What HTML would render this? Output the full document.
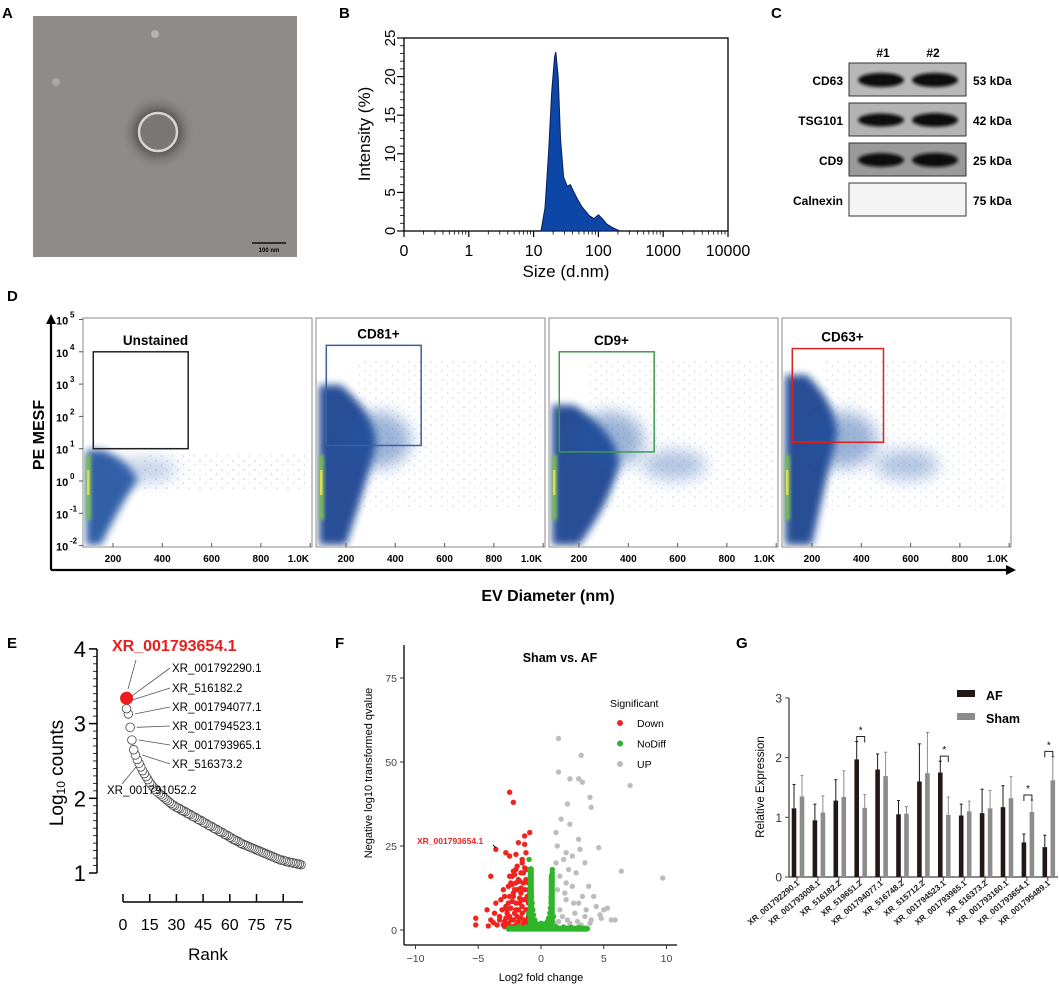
<!DOCTYPE html>
<html><head><meta charset="utf-8"><style>
body{margin:0;background:#fff}
svg{display:block;font-family:"Liberation Sans",Arial,sans-serif}
</style></head><body>
<svg id="fig" width="1059" height="987" viewBox="0 0 1059 987" xmlns="http://www.w3.org/2000/svg">
<defs>
<filter id="blur4" x="-50%" y="-50%" width="200%" height="200%"><feGaussianBlur stdDeviation="4"/></filter>
<filter id="blur8" x="-50%" y="-50%" width="200%" height="200%"><feGaussianBlur stdDeviation="8"/></filter>
<filter id="blur2" x="-50%" y="-50%" width="200%" height="200%"><feGaussianBlur stdDeviation="1.5"/></filter>
<pattern id="dots" width="11" height="9" patternUnits="userSpaceOnUse"><circle cx="2" cy="2" r="0.8" fill="#1f4f9a"/><circle cx="7.5" cy="6" r="0.7" fill="#2a5fae"/></pattern>
<radialGradient id="halo" cx="50%" cy="50%" r="50%"><stop offset="45%" stop-color="#3e3a38" stop-opacity="0.85"/><stop offset="100%" stop-color="#8e8a87" stop-opacity="0"/></radialGradient>
</defs>

<g>
<text x="2" y="18" font-size="15" font-weight="bold">A</text>
<rect x="33" y="16" width="264" height="241" fill="#8f8b88"/>
<circle cx="158" cy="132" r="38" fill="url(#halo)"/>
<circle cx="158" cy="132" r="19" fill="#7a7674" stroke="#d8d4d0" stroke-width="2.5"/>
<circle cx="155" cy="34" r="4" fill="#b5b1ad"/>
<circle cx="56" cy="82" r="4" fill="#aaa6a2"/>
<line x1="252" y1="243" x2="286" y2="243" stroke="#111" stroke-width="1.5"/>
<text x="269" y="252" font-size="6" text-anchor="middle" font-weight="bold">100 nm</text>
</g>

<g id="pB">
<text x="339" y="18" font-size="15" font-weight="bold">B</text>
<rect x="404" y="38" width="324" height="193" fill="none" stroke="#000" stroke-width="1.3"/>
<text transform="translate(370,134) rotate(-90)" font-size="17" text-anchor="middle">Intensity (%)</text>
<text x="566" y="277" font-size="17" text-anchor="middle">Size (d.nm)</text>
</g>

<g id="pC">
<text x="771" y="18" font-size="15" font-weight="bold">C</text>
<text x="883" y="57" font-size="12" font-weight="bold" text-anchor="middle">#1</text>
<text x="933" y="57" font-size="12" font-weight="bold" text-anchor="middle">#2</text>
</g>

<g id="pD">
<text x="7" y="301" font-size="15" font-weight="bold">D</text>
<text transform="translate(44,435) rotate(-90)" font-size="16" font-weight="bold" text-anchor="middle">PE MESF</text>
<text x="548" y="601" font-size="16" font-weight="bold" text-anchor="middle">EV Diameter (nm)</text>
<line x1="51" y1="570" x2="1010" y2="570" stroke="#000" stroke-width="2.2"/>
<polygon points="1016,570 1006,565 1006,575" fill="#000"/>
<line x1="51" y1="570" x2="51" y2="322" stroke="#000" stroke-width="2.2"/>
<polygon points="51,314 46,324 56,324" fill="#000"/>
</g>

<g id="pE">
<text x="7" y="648" font-size="15" font-weight="bold">E</text>
<text transform="translate(63,773) rotate(-90)" font-size="19" text-anchor="middle">Log<tspan font-size="12" dy="2">10</tspan><tspan dy="-2"> counts</tspan></text>
<text x="208" y="960" font-size="17" text-anchor="middle">Rank</text>
</g>

<g id="pF">
<text x="335" y="648" font-size="15" font-weight="bold">F</text>
<text x="560" y="662" font-size="12.5" font-weight="bold" text-anchor="middle">Sham vs. AF</text>
<text transform="translate(372,773) rotate(-90)" font-size="11" text-anchor="middle">Negative log10 transformed qvalue</text>
<text x="541" y="981" font-size="11" text-anchor="middle">Log2 fold change</text>
<text x="610" y="707" font-size="10.5">Significant</text>
</g>

<g id="pG">
<text x="736" y="648" font-size="15" font-weight="bold">G</text>
<text transform="translate(764,787) rotate(-90)" font-size="11.5" text-anchor="middle">Relative Expression</text>
</g>
</svg>

<script>
// ---------- Panel B data ----------
const bSizes=[13,15,17,19,21,22,24,26,29,33,37,41,47,55,63,72,85,100,115,135,160,190,215];
const bIntensity=[0,3,10,18,22.5,23.2,20,12,7,5.8,6,5.2,4.2,3.2,2.6,2,1.6,2.1,1.6,0.9,0.5,0.2,0];
const bXTicks=["0","1","10","100","1000","10000"];
const bYTicks=[0,5,10,15,20,25];

// ---------- Panel C data ----------
const cProteins=["CD63","TSG101","CD9","Calnexin"];
const cWeights=["53 kDa","42 kDa","25 kDa","75 kDa"];
const cBandStrength=[[1,1],[0.85,0.95],[0.95,1],[0,0]];

// ---------- Panel D data ----------
const dTitles=["Unstained","CD81+","CD9+","CD63+"];
const dGateColors=["#222","#3b5fa0","#3e9a4a","#e02020"];
const dXTicks=[200,400,600,800,1000];
const dXTickLabels=["200","400","600","800","1.0K"];
const dYExp=[5,4,3,2,1,0,-1,-2];
const dGateX0=[120,120,120,120];
const dGateX1=[505,505,505,490];
const dGateY0=[1.0,1.1,0.9,1.2];
const dGateY1=[4.0,4.2,4.0,4.1];

// ---------- Panel E data ----------
const eLogCounts=[3.34,3.2,3.13,2.95,2.78,2.65,2.58,2.52,2.47,2.42,2.37,2.33,2.29,2.25,2.21,2.18,2.15,2.12,2.09,2.07,2.05,2.03,2.01,1.99,1.97,1.95,1.93,1.91,1.9,1.88,1.87,1.86,1.84,1.83,1.82,1.8,1.79,1.78,1.76,1.75,1.74,1.72,1.71,1.7,1.68,1.67,1.66,1.64,1.63,1.62,1.6,1.59,1.58,1.56,1.55,1.54,1.52,1.51,1.5,1.48,1.47,1.45,1.44,1.43,1.42,1.4,1.39,1.38,1.37,1.36,1.35,1.34,1.33,1.32,1.31,1.3,1.29,1.28,1.27,1.26,1.25,1.24,1.23,1.22,1.21,1.2,1.19,1.18,1.17,1.17,1.16,1.15,1.15,1.14,1.14,1.13,1.13,1.12,1.12,1.11];
const eLabels=["XR_001792290.1","XR_516182.2","XR_001794077.1","XR_001794523.1","XR_001793965.1","XR_516373.2"];
const eLabelRank=[2,2,3,4,5,7];
const eXTickVals=[0,15,30,45,60,75,90];
const eXTickLabels=["0","15","30","45","60","75","75"];
const eYTicks=[1,2,3,4];

// ---------- Panel F data ----------
const fDownX=[-2.5,-2.2,-0.9,-1.3,-1.8,-1.3,-3.6,-2.8,-2.5,-1.2,-1.5,-1.1,-2,-4,-2.3,-1.8,-2.6,-1.4,-3,-3.6,-4.3,-3.7,-5.2,-5.2,-4,-3.3,-2.8,-2.2,-1.6,-1.2,-2.7,-2,-1.5,-1,-2.4,-1.8,-3,-2.5,-1.3,-2.1,-1.7,-1.1,-3.2,-2.4,-1.4,-2.9,-2.9,-2.6,-2.3,-2,-1.7,-1.4,-1.1,-2.8,-2.5,-2.2,-1.9,-1.6,-1.3,-1,-2.7,-2.4,-2.1,-1.8,-1.5,-1.2,-1,-2.6,-2.3,-2,-1.7,-1.4,-1.1,-2.5,-2.2,-1.9,-1.6,-1.3,-1,-2.3,-2,-1.7,-1.2,-2.5,-2.1,-1.6,-1.3,-2.2,-3.3,-3.5,-3.8,-4.2,-3.1,-2.9,-1.5,-1,-1.9,-2];
const fDownY=[41,38,29,28,26,25.5,24,23,22,23,20,18,18,16,16,15,13,14,12,8,6,5,3.5,1.5,3,4,7,10,11,9,5,6,5,4,3,2.5,1.5,1,1.2,12,8,6,9,14,17,2.5,1,2,1,1.5,1,2,1.5,3.5,4,3,4,3.5,3,2.5,6,6.5,5,6,7,6,8,8,8.5,8,9.5,9,10,10,11,12,12.5,12,12,13.5,14,14.5,15,16,16.5,17,18.5,17.5,3,1.5,2.2,1.2,6,10,21,14,19,22.5];
const fNoDiffX=[-0.95,-0.9,-0.85,-0.8,-0.8,-0.75,-0.7,-0.65,-0.6,-0.5,-0.4,-0.9,-0.85,-0.75,0.9,0.88,0.85,0.85,0.8,0.8,0.75,0.7,0.6,0.5,0.35,0.9,0.87,0.82,-2.6,-2.3,-2,-1.7,-1.4,-1.1,-0.8,-0.5,-0.2,0.1,0.4,0.7,1,1.3,1.6,1.9,2.2,2.5,2.8,3.1,3.4,3.7,-1.8,-1.2,-0.6,0,0.6,1.2,1.8,2.4,3,-0.3,0.2,-1,1];
const fNoDiffY=[21,18,16,14,12,10,8,6,4.5,3,2,11,9,7,18,16,14,12,10,8,6.5,5,3.5,2.5,1.5,17,11,9,0.3,0.4,0.3,0.5,0.3,0.6,0.4,0.8,1,1.2,0.9,0.6,0.4,0.5,0.3,0.4,0.3,0.5,0.3,0.4,0.3,0.4,1,0.9,1.5,2,1.4,1,0.9,0.8,0.8,1.6,1.8,5,4];
const fUpX=[1.4,3.2,1.4,2.3,3,3.3,7.1,3.9,2.1,4,1.6,2.3,1.2,3,1.3,3.1,4.6,2,2.5,1.8,3.5,6.4,9.7,2.2,2.8,1.5,3.8,2.5,4.2,3,5,5.3,4.7,5.6,5.9,3.5,2,1.3,2.7,4,1.7,2.3,3.2,1.5,2,3.3,1.1,4.4,1.2,1.9,2.6,3.6,1.4,2.1,2.9,3.9,4.8];
const fUpY=[57,52,47,45,45,44,43,39.5,37.5,36.5,33,31.5,29,27,25,24,24.5,23,22,21,20,17.5,15.5,18,17,16,13,13,10,8,6,6.5,4.5,3,3,4,9,12,5,3,4,2,1.5,6,14,10,2,7,20,11,8,6,2.5,3,2.5,2,3.5];
const fXTicks=[-10,-5,0,5,10];
const fYTicks=[0,25,50,75];
const fLegend=["Down","NoDiff","UP"];

// ---------- Panel G data ----------
const gCategories=["XR_001792290.1","XR_001793008.1","XR_516182.2","XR_519651.2","XR_001794077.1","XR_516748.2","XR_515712.2","XR_001794523.1","XR_001793965.1","XR_516373.2","XR_001793160.1","XR_001793654.1","XR_001795489.1"];
const gAF=[1.15,0.95,1.28,1.97,1.8,1.05,1.6,1.75,1.03,1.07,1.17,0.58,0.5];
const gAFErr=[0.4,0.27,0.35,0.3,0.26,0.23,0.63,0.19,0.19,0.4,0.36,0.14,0.2];
const gSham=[1.35,1.08,1.34,1.16,1.69,1.06,1.74,1.04,1.1,1.15,1.32,1.09,1.62];
const gShamErr=[0.35,0.28,0.44,0.22,0.4,0.12,0.68,0.3,0.17,0.3,0.36,0.2,0.4];
const gSignificant=[3,7,11,12];
const gYTicks=[0,1,2,3];

const NS="http://www.w3.org/2000/svg";
function mk(tag,attrs,parent,txt){const e=document.createElementNS(NS,tag);for(const k in attrs)e.setAttribute(k,attrs[k]);if(txt!==undefined)e.textContent=txt;parent.appendChild(e);return e;}

// ===== Panel B =====
(function(){
const g=document.getElementById('pB');
const bx=v=>404+(Math.log10(v)+1)*64.8;
const by=v=>231-v*7.72;
let d=`M${bx(bSizes[0])},${by(0)}`;
bSizes.forEach((s,i)=>{d+=` L${bx(s).toFixed(1)},${by(bIntensity[i]).toFixed(1)}`;});
d+=` L${bx(bSizes[bSizes.length-1])},${by(0)} Z`;
const p=mk('path',{d:d,fill:'#0c47a8',stroke:'#0a1f55','stroke-width':1},g);


bXTicks.forEach((t,i)=>{
  const x=404+i*64.8;
  mk('line',{x1:x,y1:231,x2:x,y2:237,stroke:'#000','stroke-width':1.2},g);
  const tx=mk('text',{x:x,y:256,'font-size':16,'text-anchor':'middle'},g,t);
  
  
  if(i<5){for(let m=2;m<10;m++){const xm=x+Math.log10(m)*64.8;mk('line',{x1:xm,y1:231,x2:xm,y2:234.5,stroke:'#000','stroke-width':0.8},g);}}
});
for(let v=0;v<=25;v++){mk('line',{x1:404,y1:by(v),x2:v%5===0?397:400,y2:by(v),stroke:'#000','stroke-width':v%5===0?1.2:0.8},g);}
bYTicks.forEach(v=>{
  const t=mk('text',{transform:`translate(395,${by(v)}) rotate(-90)`,'font-size':15,'text-anchor':'middle'},g,String(v));
  
  
});
})();

// ===== Panel C =====
(function(){
const g=document.getElementById('pC');
const bg=['#b8b8b8','#b3b3b3','#9a9a9a','#f4f4f4'];
cProteins.forEach((name,i)=>{
  const y=63+i*40;
  const r=mk('rect',{x:849,y:y,width:117,height:33,fill:bg[i],stroke:'#333','stroke-width':1},g);
  
  
  [881,935].forEach((cx,j)=>{
    const s=cBandStrength[i][j];
    if(s>0){const e=mk('ellipse',{cx:cx,cy:y+17,rx:23,ry:3.5+3.5*s,fill:'#0d0d0d',filter:'url(#blur2)'},g);
      
      }
  });
  const l=mk('text',{x:843,y:y+22,'font-size':12,'font-weight':'bold','text-anchor':'end'},g,name);
  
  
  const k=mk('text',{x:973,y:y+22,'font-size':12,'font-weight':'bold'},g,cWeights[i]);
  
  
});
})();

// ===== Panel D =====
(function(){
const g=document.getElementById('pD');
const defs=document.querySelector('defs');
const lefts=[83,316,549,782];
const dy=e=>481-e*32.3;
lefts.forEach((L,i)=>{
  const dx=v=>L+30+(v-200)*0.2465;
  const cp=mk('clipPath',{id:'clipD'+i},defs);
  mk('rect',{x:L+1,y:319,width:227,height:227},cp);
  const fr=mk('rect',{x:L,y:318,width:229,height:229,fill:'#fff',stroke:'#888','stroke-width':1},g);
  
  
  const cg=mk('g',{'clip-path':'url(#clipD'+i+')'},g);
  if(i===0){
    mk('rect',{x:L+60,y:455,width:165,height:35,fill:'url(#dots)',opacity:0.3},cg);
    mk('path',{d:`M${L+3},450 L${L+20},450 Q${L+45},460 ${L+55},480 Q${L+40},500 ${L+18},545 L${L+3},545 Z`,fill:'#1d4f9e',opacity:0.9,filter:'url(#blur4)'},cg);
    mk('ellipse',{cx:L+60,cy:470,rx:35,ry:12,fill:'#3a6ab5',opacity:0.3,filter:'url(#blur8)'},cg);
  } else {
    const top=[0,385,405,375][i], rightX=[0,60,70,55][i];
    mk('rect',{x:L+40,y:360,width:185,height:150,fill:'url(#dots)',opacity:0.25},cg);
    mk('path',{d:`M${L+3},${top} L${L+25},${top} Q${L+rightX},${top+30} ${L+rightX},${top+60} Q${L+rightX-10},${top+100} ${L+30},545 L${L+3},545 Z`,fill:'#123f8e',opacity:0.92,filter:'url(#blur4)'},cg);
    mk('ellipse',{cx:L+60,cy:440,rx:35,ry:28,fill:'#2456a6',opacity:0.45,filter:'url(#blur8)'},cg);
    if(i>=2) mk('ellipse',{cx:L+125,cy:465,rx:32,ry:15,fill:'#3d6cb8',opacity:0.4,filter:'url(#blur8)'},cg);
  }
  mk('rect',{x:L+3,y:455,width:5,height:65,fill:'#7ec24a',opacity:0.85,filter:'url(#blur2)'},cg);
  mk('rect',{x:L+4,y:470,width:2.5,height:25,fill:'#e8e04a',opacity:0.9},cg);
  const gx0=dx(dGateX0[i]),gx1=dx(dGateX1[i]),gy0=dy(dGateY1[i]),gy1=dy(dGateY0[i]);
  const gate=mk('rect',{x:gx0,y:gy0,width:gx1-gx0,height:gy1-gy0,fill:'none',stroke:dGateColors[i],'stroke-width':1.5},g);
  
  
  const t=mk('text',{x:i===0?gx1:gx0+(gx1-gx0)*0.55,y:gy0-7,'font-size':13.5,'font-weight':'bold','text-anchor':i===0?'end':'middle'},g,dTitles[i]);
  
  
  dXTicks.forEach((v,k)=>{
    const x=dx(v);
    mk('line',{x1:x,y1:547,x2:x,y2:543,stroke:'#555'},g);
    const tl=mk('text',{x:k===4?Math.min(x,L+226):x,y:562,'font-size':10,'font-weight':'bold','text-anchor':k===4?'end':'middle'},g,dXTickLabels[k]);
    
    
  });
});
dYExp.forEach(e=>{
  const y=dy(e);
  mk('line',{x1:83,y1:y,x2:79,y2:y,stroke:'#555'},g);
  const t=mk('text',{x:56,y:y+5,'font-size':11,'font-weight':'bold'},g,'10');
  
  
  mk('text',{x:70,y:y-2,'font-size':8,'font-weight':'bold'},g,String(e));
});
})();

// ===== Panel E =====
(function(){
const g=document.getElementById('pE');
const ex=r=>123+r*1.78;
const ey=v=>873-(v-1)*74.7;
mk('line',{x1:97,y1:ey(4),x2:97,y2:ey(1),stroke:'#000','stroke-width':1.5},g);
for(let k=0;k<=30;k++){const y=ey(1+k*0.1);mk('line',{x1:97,y1:y,x2:k%10===0?89:93,y2:y,stroke:'#000','stroke-width':k%10===0?1.5:0.8},g);}
eYTicks.forEach(v=>{const t=mk('text',{x:86,y:ey(v)+8,'font-size':22,'text-anchor':'end'},g,String(v));
  
  });
mk('line',{x1:123,y1:902,x2:303,y2:902,stroke:'#000','stroke-width':1.5},g);
eXTickVals.forEach((v,i)=>{
  const x=ex(v);mk('line',{x1:x,y1:902,x2:x,y2:894,stroke:'#000','stroke-width':1.5},g);
  const t=mk('text',{x:x,y:930,'font-size':16,'text-anchor':'middle'},g,eXTickLabels[i]);
  
  
});
for(let i=eLogCounts.length-1;i>=1;i--){
  const c=mk('circle',{cx:ex(i+1),cy:ey(eLogCounts[i]),r:4.3,fill:'#fff',stroke:'#444','stroke-width':0.8},g);
  
  
}
const red=mk('circle',{cx:ex(2),cy:ey(eLogCounts[0]),r:6.5,fill:'#ee1c1c'},g);


const rt=mk('text',{x:112,y:651,'font-size':16,'font-weight':'bold',fill:'#ee1c1c'},g,'XR_001793654.1');


mk('line',{x1:136,y1:660,x2:128,y2:689,stroke:'#555','stroke-width':0.8},g);
const ly=[672,692,711,730,749,768];
eLabels.forEach((s,i)=>{
  const idx=eLabelRank[i]-1;
  const px=ex(eLabelRank[i]+ (i<2?0:1)),py=ey(eLogCounts[Math.max(0,idx-1+ (i<2?0:1))]);
  mk('line',{x1:170,y1:ly[i]-4,x2:px+5,y2:i<2?ey(eLogCounts[0])-2+i*4:py,stroke:'#555','stroke-width':0.8},g);
  const t=mk('text',{x:172,y:ly[i],'font-size':11.5},g,s);
  
  
});
mk('line',{x1:122,y1:784,x2:136,y2:767,stroke:'#555','stroke-width':0.8},g);
const t=mk('text',{x:107,y:794,'font-size':11.5},g,'XR_001791052.2');


})();

// ===== Panel F =====
(function(){
const g=document.getElementById('pF');
const fx=v=>541+v*12.55;
const fy=v=>930-v*3.36;
mk('line',{x1:404,y1:645,x2:404,y2:945,stroke:'#000','stroke-width':1.3},g);
mk('line',{x1:404,y1:945,x2:677,y2:945,stroke:'#000','stroke-width':1.3},g);
fYTicks.forEach(v=>{mk('line',{x1:404,y1:fy(v),x2:400,y2:fy(v),stroke:'#333'},g);
  const t=mk('text',{x:397,y:fy(v)+4,'font-size':10.5,'text-anchor':'end',fill:'#444'},g,String(v));
  
  });
fXTicks.forEach(v=>{mk('line',{x1:fx(v),y1:945,x2:fx(v),y2:949,stroke:'#333'},g);
  const t=mk('text',{x:fx(v),y:962,'font-size':10.5,'text-anchor':'middle',fill:'#444'},g,String(v).replace('-','−'));
  
  });
function pts(X,Y,col,name){X.forEach((x,i)=>{const c=mk('circle',{cx:fx(x),cy:fy(Y[i]),r:2.7,fill:col},g);
  
  });}
pts(fUpX,fUpY,'#bdbdbd','up-point');
pts(fDownX,fDownY,'#f0231e','down-point');
pts(fNoDiffX,fNoDiffY,'#2fb52a','nodiff-point');
mk('rect',{x:fx(-2.7),y:fy(1)-1,width:fx(3.7)-fx(-2.7),height:6,fill:'#2fb52a'},g);
mk('rect',{x:fx(-1.05),y:fy(19),width:6,height:fy(0)-fy(19),fill:'#2fb52a',rx:3},g);
mk('rect',{x:fx(0.62),y:fy(17),width:6,height:fy(0)-fy(17),fill:'#2fb52a',rx:3},g);
const cols=['#f0231e','#2fb52a','#bdbdbd'];
fLegend.forEach((s,i)=>{const y=727+i*20.5;
  mk('circle',{cx:620,cy:y-4,r:3,fill:cols[i]},g);
  const t=mk('text',{x:637,y:y,'font-size':10.5},g,s);
  
  });
const lt=mk('text',{x:417,y:844,'font-size':8.5,'font-weight':'bold',fill:'#ee2222'},g,'XR_001793654.1');


mk('line',{x1:493,y1:845,x2:496,y2:848,stroke:'#000','stroke-width':1},g);
})();

// ===== Panel G =====
(function(){
const g=document.getElementById('pG');
const gy=v=>877-v*59.7;
const gx=i=>797+i*20.9;
mk('line',{x1:789,y1:gy(3),x2:789,y2:877,stroke:'#444','stroke-width':1.3},g);
mk('line',{x1:789,y1:877,x2:1058,y2:877,stroke:'#444','stroke-width':1.3},g);
gYTicks.forEach(v=>{mk('line',{x1:789,y1:gy(v),x2:785,y2:gy(v),stroke:'#444'},g);
  const t=mk('text',{x:782,y:gy(v)+4.5,'font-size':12,'text-anchor':'end',fill:'#333'},g,String(v));
  
  });
gCategories.forEach((c,i)=>{
  const x=gx(i);
  mk('line',{x1:x,y1:877,x2:x,y2:881,stroke:'#444'},g);
  [[gAF,gAFErr,-3,'#231815'],[gSham,gShamErr,5,'#8c8c8c']].forEach(([vals,errs,off,col],k)=>{
    const bxx=x+off-2.3;
    const b=mk('rect',{x:bxx,y:gy(vals[i]),width:4.6,height:gy(0)-gy(vals[i]),fill:col},g);
    
    
    mk('line',{x1:x+off,y1:gy(vals[i]),x2:x+off,y2:gy(vals[i]+errs[i]),stroke:col,'stroke-width':1},g);
    mk('line',{x1:x+off-1.5,y1:gy(vals[i]+errs[i]),x2:x+off+1.5,y2:gy(vals[i]+errs[i]),stroke:col,'stroke-width':1},g);
  });
  const t=mk('text',{transform:`translate(${x+3},884) rotate(-40)`,'font-size':8.3,'font-weight':'bold','text-anchor':'end',fill:'#222'},g,c);
  
  
});
gSignificant.forEach(i=>{
  const x=gx(i);const top=Math.max(gAF[i]+gAFErr[i],gSham[i]+gShamErr[i]);
  const y=gy(top)-5;
  mk('path',{d:`M${x-3},${y+6} V${y} H${x+5} V${y+6}`,fill:'none',stroke:'#222','stroke-width':1},g);
  const s=mk('text',{x:x+1,y:y-3,'font-size':10,'text-anchor':'middle'},g,'*');
  
  
});
[['AF','#231815',700],['Sham','#8c8c8c',723]].forEach(([n,c,y])=>{
  mk('rect',{x:957,y:y-10,width:18,height:7,fill:c},g);
  const t=mk('text',{x:986,y:y,'font-size':12.5,'font-weight':'bold'},g,n);
  
  
});
})();
</script>
</body></html>
